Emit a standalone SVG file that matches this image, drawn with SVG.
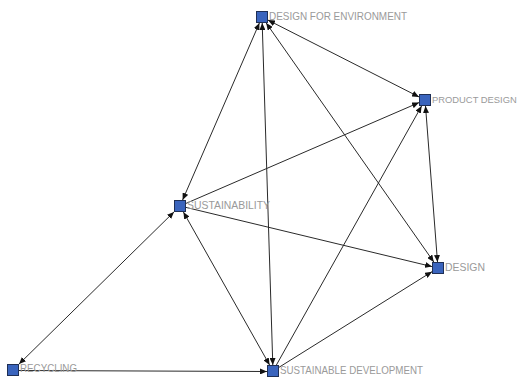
<svg xmlns="http://www.w3.org/2000/svg" width="523" height="378" viewBox="0 0 523 378">
<style>
.e{stroke:#2a2a2a;stroke-width:1;fill:none}
.a{marker-end:url(#ar)}
.b{marker-start:url(#ar);marker-end:url(#ar)}
.n rect{fill:#3a64bd;stroke:#1f2f55;stroke-width:1}
.n text{font-family:"Liberation Sans",Arial,sans-serif;font-size:10.5px;fill:#9a9a9a}
</style>
<defs>
<marker id="ar" viewBox="0 0 7 6" refX="7" refY="3" markerWidth="7" markerHeight="6" markerUnits="userSpaceOnUse" orient="auto-start-reverse">
<path d="M0,0 L7,3 L0,6 z" fill="#111"/>
</marker>
</defs>
<rect width="523" height="378" fill="#fff"/>
<g id="connectors">
<line class="e b" x1="259.4" y1="23" x2="182.6" y2="200"/>
<line class="e b" x1="262.2" y1="23" x2="272.8" y2="365"/>
<line class="e b" x1="268" y1="20.1" x2="419" y2="96.9"/>
<line class="e b" x1="266.2" y1="23" x2="433.8" y2="262"/>
<line class="e a" x1="186" y1="203.4" x2="419" y2="102.6"/>
<line class="e a" x1="186" y1="207.4" x2="432" y2="266.6"/>
<line class="e b" x1="183.4" y1="212" x2="269.6" y2="365"/>
<line class="e b" x1="174" y1="211.9" x2="19" y2="364.1"/>
<line class="e a" x1="19" y1="370.5" x2="267" y2="371.5"/>
<line class="e b" x1="425.5" y1="106" x2="437.5" y2="262"/>
<line class="e a" x1="276.4" y1="365" x2="421.6" y2="106"/>
<line class="e a" x1="279" y1="367.3" x2="432" y2="271.7"/>
</g>
<g id="n-dfe" class="n"><rect x="256.5" y="11.5" width="11" height="11"/><text x="269" y="20" textLength="138" lengthAdjust="spacingAndGlyphs">DESIGN FOR ENVIRONMENT</text></g>
<g id="n-pd" class="n"><rect x="419.5" y="94.5" width="11" height="11"/><text x="432" y="103" style="font-size:9.4px">PRODUCT DESIGN</text></g>
<g id="n-sust" class="n"><rect x="174.5" y="200.5" width="11" height="11"/><text x="187" y="209" textLength="83" lengthAdjust="spacingAndGlyphs">SUSTAINABILITY</text></g>
<g id="n-des" class="n"><rect x="432.5" y="262.5" width="11" height="11"/><text x="445" y="271" textLength="40" lengthAdjust="spacingAndGlyphs">DESIGN</text></g>
<g id="n-rec" class="n"><rect x="7.5" y="364.5" width="11" height="11"/><text x="20" y="372" textLength="57" lengthAdjust="spacingAndGlyphs">RECYCLING</text></g>
<g id="n-sd" class="n"><rect x="267.5" y="365.5" width="11" height="11"/><text x="280" y="373.5" textLength="143" lengthAdjust="spacingAndGlyphs">SUSTAINABLE DEVELOPMENT</text></g>
</svg>
